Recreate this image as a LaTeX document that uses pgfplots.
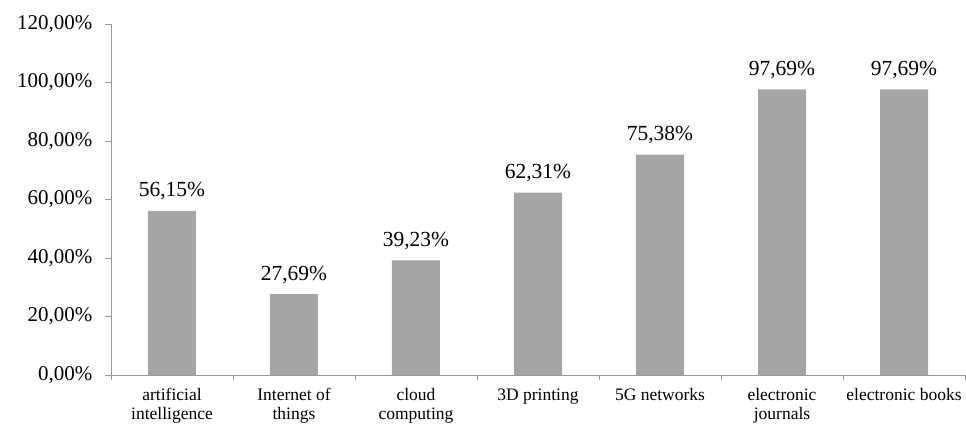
\documentclass[border=0pt]{standalone}
\usepackage{pgfplots}
\pgfplotsset{compat=1.18}
\usepackage{fontspec}
\setmainfont{Liberation Serif}

\definecolor{barfill}{HTML}{A5A5A5}
\definecolor{axisgray}{HTML}{999999}

\begin{document}
\begin{tikzpicture}
\useasboundingbox (-111pt,-51pt) rectangle (855pt,375pt);
\begin{axis}[
    at={(0,0)}, anchor=south west,
    scale only axis,
    width=854pt, height=351pt,
    xmin=-0.5, xmax=6.5,
    ymin=0, ymax=120,
    ytick={0,20,...,120},
    xtick={0,...,6},
    xticklabels={{artificial\\intelligence},{Internet of\\things},{cloud\\computing},{3D printing},{5G networks},{electronic\\journals},{electronic books}},
    minor xtick={-0.5,0.5,...,6.5},
    major x tick style={draw=none},
    tick align=outside,
    major tick length=6pt,
    minor tick length=5pt,
    tick style={axisgray, line width=0.8pt},
    axis x line*=bottom,
    axis y line*=left,
    axis line style={axisgray, line width=0.8pt},
    /pgf/number format/assume math mode=true,
    yticklabel={\pgfmathprintnumber[fixed,fixed zerofill,precision=2,use comma]{\tick}\%},
    yticklabel style={font=\fontsize{21}{24}\selectfont, xshift=-9pt},
    xticklabel style={font=\fontsize{17.5}{19}\selectfont, align=center, yshift=-4pt},
    ybar, bar width=48pt,
    nodes near coords={\pgfmathprintnumber[fixed,fixed zerofill,precision=2,use comma]{\pgfplotspointmeta}\%},
    every node near coord/.append style={font=\fontsize{21.5}{24}\selectfont, black, yshift=7pt},
    clip=false,
]
\addplot[fill=barfill, draw=none] coordinates {
    (0,56.15) (1,27.69) (2,39.23) (3,62.31) (4,75.38) (5,97.69) (6,97.69)
};
\end{axis}
\end{tikzpicture}
\end{document}
